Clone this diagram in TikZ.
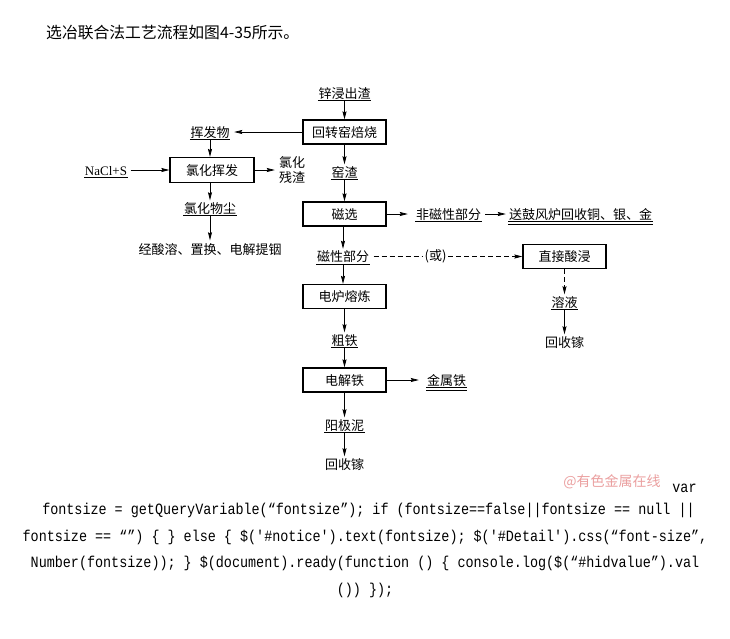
\documentclass[tikz,border=0pt]{standalone}
\usepackage{fontspec}
\setmainfont{Liberation Serif}
\newfontfamily\cjk{Noto Sans CJK SC}
\newfontfamily\codefont[FakeStretch=0.855]{Liberation Mono}
\usetikzlibrary{arrows.meta}
\definecolor{wm}{RGB}{235,160,160}
\tikzset{
  box/.style={draw, line width=1.2pt, minimum width=83pt, minimum height=24pt, inner sep=0pt,
    font=\cjk\fontsize{13}{15}\selectfont, text height=11pt, text depth=1pt},
  lbl/.style={inner xsep=0.5pt, inner ysep=1.5pt, font=\cjk\fontsize{13}{15}\selectfont,
    text height=11pt, text depth=1pt},
  arr/.style={-{Stealth[length=8pt,width=4pt,inset=1pt]}, line width=0.8pt},
  dsh/.style={arr, dash pattern=on 5pt off 3pt},
  uline/.style={line width=0.8pt},
  code/.style={font=\codefont\fontsize{15.7}{18}\selectfont, inner sep=0pt},
}
\begin{document}
\begin{tikzpicture}[x=1pt,y=-1pt]
\fill[white] (0,0) rectangle (730,638);
\useasboundingbox (0,0) rectangle (730,638);

% title
\node[anchor=west, inner sep=0pt, font=\cjk\fontsize{15.8}{18}\selectfont] (title) at (46,33) {选冶联合法工艺流程如图4-35所示。};

% main column
\node[lbl] (zn) at (344.5,93) {锌浸出渣};
\node[box] (b1) at (344.5,132) {回转窑焙烧};
\node[lbl] (yz) at (344.5,172) {窑渣};
\node[box] (b3) at (344.5,214) {磁选};
\node[lbl] (cx) at (343,256.5) {磁性部分};
\node[box] (b5) at (344.5,296.5) {电炉熔炼};
\node[lbl] (ct) at (344.5,340) {粗铁};
\node[box] (b6) at (344.5,380) {电解铁};
\node[lbl] (yjn) at (344.5,425) {阳极泥};
\node[lbl] (hsj) at (344.5,464) {回收镓};

% left branch
\node[lbl] (hf) at (210,132) {挥发物};
\node[box, minimum width=84pt, minimum height=25pt] (b2) at (212,170) {氯化挥发};
\node[lbl, font=\fontsize{13}{15}\selectfont] (nacl) at (106,170) {NaCl+S};
\node[inner sep=0pt, align=center, font=\cjk\fontsize{13}{15}\selectfont] (clzz) at (292,170) {氯化\\残渣};
\node[lbl] (clwc) at (210,208) {氯化物尘};
\node[lbl] (jss) at (210,249) {经酸溶、置换、电解提铟};

% right branches
\node[lbl] (fcx) at (448.5,214) {非磁性部分};
\node[lbl] (sgf) at (580.5,214) {送鼓风炉回收铜、银、金};
\node[inner sep=1.5pt, font=\cjk\fontsize{13}{15}\selectfont] (huo) at (435.5,256.5) {(或)};
\node[box] (b4) at (564.5,256.5) {直接酸浸};
\node[lbl] (ry) at (564.5,302) {溶液};
\node[lbl] (hsj2) at (564.5,342) {回收镓};
\node[lbl] (jst) at (446.5,380) {金属铁};

% underlines
\foreach \n in {zn,yz,cx,ct,yjn,hf,nacl,clwc,fcx,sgf,ry,jst}
  \draw[uline] (\n.south west) -- (\n.south east);
\foreach \n in {sgf,jst}
  \draw[uline] ([yshift=-3pt]\n.south west) -- ([yshift=-3pt]\n.south east);

% connectors
\draw[arr] (zn) -- (b1);
\draw[arr] (b1) -- (yz);
\draw[arr] (yz) -- (b3);
\draw[arr] (b3.south -| cx) -- (cx.north);
\draw[arr] (cx.south) -- (cx.south |- b5.north);
\draw[arr] (b5) -- (ct);
\draw[arr] (ct) -- (b6);
\draw[arr] (b6) -- (yjn);
\draw[arr] (yjn) -- (hsj);

\draw[arr, shorten >=4pt] (b1.west) -- (hf.east);
\draw[arr] (hf.south) -- (hf.south |- b2.north);
\draw[arr, shorten <=3pt] (nacl.east) -- (b2.west);
\draw[arr, shorten >=4pt] (b2.east) -- (clzz.west);
\draw[arr] (clwc.north |- b2.south) -- (clwc.north);
\draw[arr, shorten >=1pt] (clwc.south) -- (jss.north);

\draw[arr, shorten >=7.5pt] (b3.east) -- (fcx.west);
\draw[arr, shorten <=3.5pt, shorten >=2.5pt] (fcx.east) -- (sgf.west);
\draw[dash pattern=on 5pt off 3pt, line width=0.8pt, shorten <=4pt] (cx.east) -- (huo.west);
\draw[dsh] (huo.east) -- (b4.west);
\draw[dsh] (b4.south) -- (ry.north);
\draw[arr] (ry) -- (hsj2);
\draw[arr, shorten >=7.5pt] (b6.east) -- (jst.west);

% watermark and page text
\node[inner sep=0pt, text=wm, font=\cjk\fontsize{14}{16}\selectfont] (wmk) at (612,482) {@有色金属在线};
\node[code] (l1) at (684.5,488) {var};
\node[code] (l2) at (368.5,510) {fontsize = getQueryVariable(“fontsize”); if (fontsize==false||fontsize == null ||};
\node[code] (l3) at (365,537) {fontsize == “”) \{ \} else \{ \$('\#notice').text(fontsize); \$('\#Detail').css(“font-size”,};
\node[code] (l4) at (365,563) {Number(fontsize)); \} \$(document).ready(function () \{ console.log(\$(“\#hidvalue”).val};
\node[code] (l5) at (365,590) {()) \});};
\end{tikzpicture}
\end{document}
